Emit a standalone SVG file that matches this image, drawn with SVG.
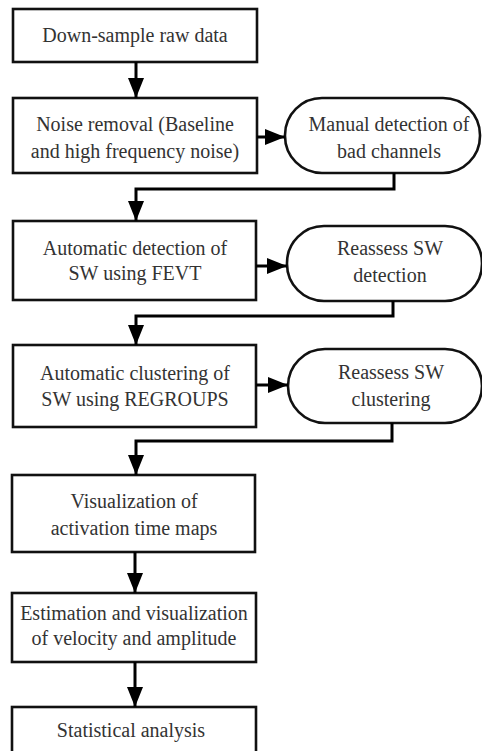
<svg xmlns="http://www.w3.org/2000/svg" width="482" height="751" viewBox="0 0 482 751">
<style>
.box{fill:#fff;stroke:#111;stroke-width:2.6}
.t{font-family:'Liberation Serif','Times New Roman','DejaVu Serif',serif;font-size:20px;fill:#333;text-anchor:middle}
.c{fill:none;stroke:#000;stroke-width:3}
</style>
<defs>
<marker id="ah" markerUnits="userSpaceOnUse" markerWidth="22" markerHeight="16" refX="20" refY="8" orient="auto">
<path d="M0,0 L20,8 L0,16 Z" fill="#000"/>
</marker>
</defs>
<rect width="482" height="751" fill="#fff"/>
<g id="n1"><rect class="box" x="13" y="9" width="244" height="53"/><text class="t" x="135" y="42">Down-sample raw data</text></g>
<g id="n2"><rect class="box" x="13" y="98" width="244" height="75"/><text class="t" x="135" y="131">Noise removal (Baseline</text><text class="t" x="135" y="158">and high frequency noise)</text></g>
<g id="n3"><rect class="box" x="285" y="98" width="195" height="75" rx="37" ry="37"/><text class="t" x="389" y="131">Manual detection of</text><text class="t" x="389" y="158">bad channels</text></g>
<g id="n4"><rect class="box" x="13" y="221" width="243" height="79"/><text class="t" x="135" y="255">Automatic detection of</text><text class="t" x="135" y="280">SW using FEVT</text></g>
<g id="n5"><rect class="box" x="287" y="226" width="195" height="75" rx="37" ry="37"/><text class="t" x="390" y="255">Reassess SW</text><text class="t" x="390" y="282">detection</text></g>
<g id="n6"><rect class="box" x="13" y="345" width="243" height="82"/><text class="t" x="135" y="380">Automatic clustering of</text><text class="t" x="135" y="406">SW using REGROUPS</text></g>
<g id="n7"><rect class="box" x="288" y="349" width="194" height="74" rx="37" ry="37"/><text class="t" x="391" y="379">Reassess SW</text><text class="t" x="391" y="406">clustering</text></g>
<g id="n8"><rect class="box" x="12" y="475" width="243" height="77"/><text class="t" x="134" y="508">Visualization of</text><text class="t" x="134" y="535">activation time maps</text></g>
<g id="n9"><rect class="box" x="12" y="593" width="244" height="69"/><text class="t" x="134" y="620">Estimation and visualization</text><text class="t" x="134" y="645">of velocity and amplitude</text></g>
<g id="n10"><rect class="box" x="12" y="707" width="244" height="60"/><text class="t" x="131" y="737">Statistical analysis</text></g>
<g id="connectors">
<path class="c" d="M136,62 V98" marker-end="url(#ah)"/>
<path class="c" d="M257,137 H285" marker-end="url(#ah)"/>
<path class="c" d="M394,173 V189 H136 V221" marker-end="url(#ah)"/>
<path class="c" d="M256,266 H287" marker-end="url(#ah)"/>
<path class="c" d="M393,301 V316 H136 V345" marker-end="url(#ah)"/>
<path class="c" d="M256,385 H288" marker-end="url(#ah)"/>
<path class="c" d="M392,423 V441 H136 V475" marker-end="url(#ah)"/>
<path class="c" d="M135,552 V593" marker-end="url(#ah)"/>
<path class="c" d="M135,662 V707" marker-end="url(#ah)"/>
</g>
</svg>
